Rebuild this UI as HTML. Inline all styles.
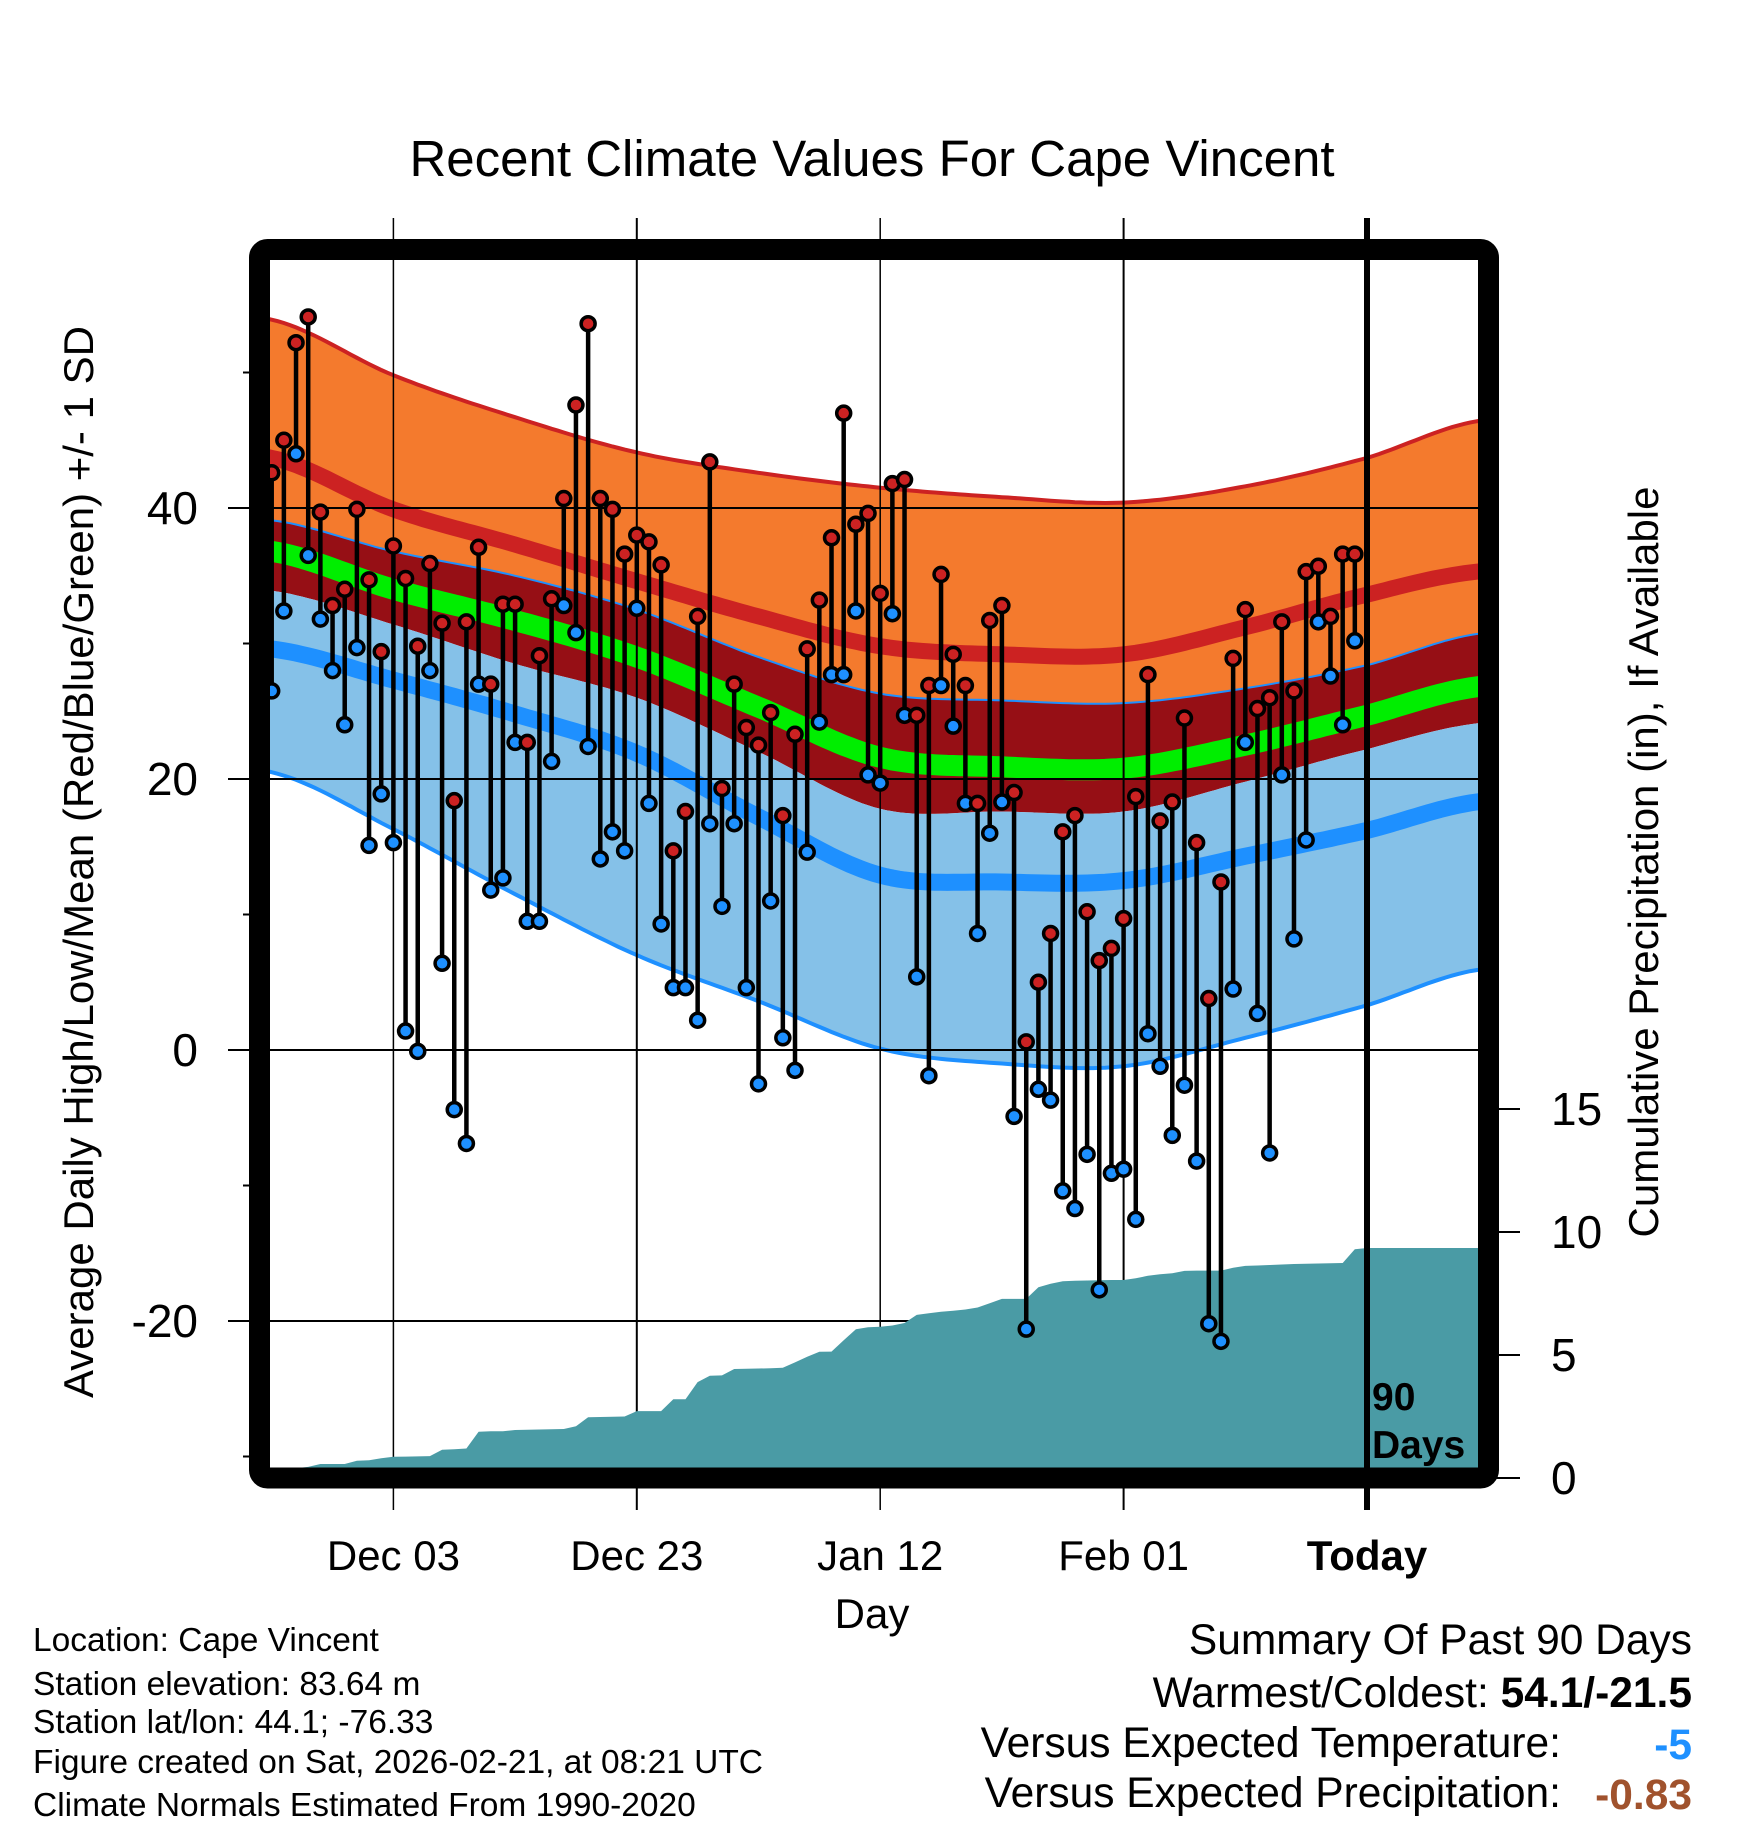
<!DOCTYPE html>
<html><head><meta charset="utf-8"><style>
html,body{margin:0;padding:0;background:#fff;}
svg{display:block;font-family:"Liberation Sans",Arial,sans-serif;}
</style></head><body>
<svg id="chart" width="1748" height="1828" viewBox="0 0 1748 1828" xmlns="http://www.w3.org/2000/svg">
<defs><clipPath id="plotClip"><rect x="270" y="260" width="1208" height="1208"/></clipPath></defs>
<text x="872" y="176" font-size="51" text-anchor="middle">Recent Climate Values For Cape Vincent</text>
<g id="bands" clip-path="url(#plotClip)"></g>
<g id="grid"></g>
<g id="precip" clip-path="url(#plotClip)"></g>
<g id="temps" clip-path="url(#plotClip)"></g>
<g id="axes"></g>
<text font-size="39" font-weight="bold"><tspan x="1372" y="1410">90</tspan><tspan x="1372" y="1458">Days</tspan></text>
<text x="872" y="1628" font-size="42" text-anchor="middle">Day</text>
<text transform="translate(93,862) rotate(-90)" font-size="42" text-anchor="middle">Average Daily High/Low/Mean (Red/Blue/Green) +/- 1 SD</text>
<text transform="translate(1658,862) rotate(-90)" font-size="42" text-anchor="middle">Cumulative Precipitation (in), If Available</text>
<g font-size="33.5">
<text x="33" y="1651">Location: Cape Vincent</text>
<text x="33" y="1695">Station elevation: 83.64 m</text>
<text x="33" y="1733">Station lat/lon: 44.1; -76.33</text>
<text x="33" y="1773">Figure created on Sat, 2026-02-21, at 08:21 UTC</text>
<text x="33" y="1816">Climate Normals Estimated From 1990-2020</text>
</g>
<g font-size="42.5">
<text x="1692" y="1654" text-anchor="end">Summary Of Past 90 Days</text>
<text x="1692" y="1707" text-anchor="end">Warmest/Coldest: <tspan font-weight="bold">54.1/-21.5</tspan></text>
<text x="1561" y="1757" text-anchor="end">Versus Expected Temperature:</text>
<text x="1692" y="1759" text-anchor="end" font-weight="bold" fill="#1e90ff">-5</text>
<text x="1561" y="1807" text-anchor="end">Versus Expected Precipitation:</text>
<text x="1692" y="1809" text-anchor="end" font-weight="bold" fill="#a0522d">-0.83</text>
</g>
</svg>
<script>
// ---- data ----
const normalDays = [-90,-80,-70,-60,-50,-40,-30,-20,-10,0,9];
const normTop    = [53.9,49.8,46.7,44.1,42.6,41.5,40.8,40.4,41.6,43.7,46.4];
const normHigh   = [43.7,39.9,37.3,34.6,32.0,29.8,29.2,29.2,31.2,33.6,35.3];
const normHighLo = [39.1,36.8,35.0,32.5,29.0,26.3,25.8,25.6,26.7,28.4,30.7];
const normMean   = [36.8,34.0,31.7,29.0,25.3,21.6,20.9,20.8,22.5,24.7,26.8];
const normLowHi  = [33.9,31.4,28.5,26.0,22.0,17.8,17.6,17.6,19.8,22.2,24.1];
const normLow    = [29.6,27.3,24.8,21.9,17.2,12.9,12.4,12.5,14.3,16.2,18.3];
const normBottom = [20.5,16.3,11.5,7.0,3.6,0.1,-1.0,-1.2,0.9,3.3,5.9];
const highs = [42.6,45,52.2,54.1,39.7,32.8,34,39.9,34.7,29.4,37.2,34.8,29.8,35.9,31.5,18.4,31.6,37.1,27,32.9,32.9,22.7,29.1,33.3,40.7,47.6,53.6,40.7,39.9,36.6,38,37.5,35.8,14.7,17.6,32,43.4,19.3,27,23.8,22.5,24.9,17.3,23.3,29.6,33.2,37.8,47,38.8,39.6,33.7,41.8,42.1,24.7,26.9,35.1,29.2,26.9,18.2,31.7,32.8,19,0.6,5,8.6,16.1,17.3,10.2,6.6,7.5,9.7,18.7,27.7,16.9,18.3,24.5,15.3,3.8,12.4,28.9,32.5,25.2,26,31.6,26.5,35.3,35.7,32,36.6,36.6];
const lows = [26.5,32.4,44,36.5,31.8,28,24,29.7,15.1,18.9,15.3,1.4,-0.1,28,6.4,-4.4,-6.9,27,11.8,12.7,22.7,9.5,9.5,21.3,32.8,30.8,22.4,14.1,16.1,14.7,32.6,18.2,9.3,4.6,4.6,2.2,16.7,10.6,16.7,4.6,-2.5,11,0.9,-1.5,14.6,24.2,27.7,27.7,32.4,20.3,19.7,32.2,24.7,5.4,-1.9,26.9,23.9,18.2,8.6,16,18.3,-4.9,-20.6,-2.9,-3.7,-10.4,-11.7,-7.7,-17.7,-9.1,-8.8,-12.5,1.2,-1.2,-6.3,-2.6,-8.2,-20.2,-21.5,4.5,22.7,2.7,-7.6,20.3,8.2,15.5,31.6,27.6,24,30.2];
const precipCum = [0.3,0.35,0.4,0.45,0.57,0.57,0.57,0.7,0.72,0.8,0.86,0.87,0.88,0.89,1.15,1.17,1.2,1.88,1.9,1.9,1.95,1.96,1.97,1.98,1.99,2.1,2.47,2.48,2.49,2.5,2.72,2.72,2.72,3.2,3.2,3.9,4.16,4.17,4.43,4.44,4.45,4.46,4.48,4.7,4.93,5.13,5.14,5.6,6.05,6.13,6.15,6.2,6.3,6.63,6.7,6.76,6.8,6.85,6.93,7.1,7.28,7.28,7.28,7.75,7.9,8.0,8.02,8.03,8.04,8.05,8.05,8.12,8.22,8.28,8.32,8.42,8.43,8.43,8.43,8.55,8.62,8.64,8.66,8.68,8.7,8.71,8.72,8.73,8.74,9.3,9.35];
const tempTicks = [40,20,0,-20];
const tempMinorTicks = [50,30,10,-10,-30];
const precipTicks = [0,5,10,15];
const dateTicks = [-80,-60,-40,-20,0];
const dateLabels = ["Dec 03","Dec 23","Jan 12","Feb 01","Today"];

// ---- scales ----
const xOf = d => 1367 + d*12.17;
const yT = t => 1050 - t*13.55;
const yP = p => 1478 - p*24.6;
const NS = "http://www.w3.org/2000/svg";
function mk(tag, attrs, parent){const e=document.createElementNS(NS,tag);for(const k in attrs)e.setAttribute(k,attrs[k]);parent.appendChild(e);return e;}

function interp(arr, d){
  let i=0; while(i<normalDays.length-2 && d>normalDays[i+1]) i++;
  const p0=arr[Math.max(i-1,0)],p1=arr[i],p2=arr[i+1],p3=arr[Math.min(i+2,arr.length-1)];
  const t=(d-normalDays[i])/(normalDays[i+1]-normalDays[i]);
  const t2=t*t,t3=t2*t;
  return 0.5*((2*p1)+(-p0+p2)*t+(2*p0-5*p1+4*p2-p3)*t2+(-p0+3*p1-3*p2+p3)*t3);
}
function pts(arr){const r=[];for(let d=-91;d<=10;d+=0.5)r.push([xOf(d),yT(interp(arr,d))]);return r;}
function linePath(arr){return pts(arr).map((p,i)=>(i?'L':'M')+p[0].toFixed(1)+','+p[1].toFixed(1)).join('');}
function bandPath(a,b){const p=pts(a),q=pts(b).reverse();return p.concat(q).map((v,i)=>(i?'L':'M')+v[0].toFixed(1)+','+v[1].toFixed(1)).join('')+'Z';}

const bands=document.getElementById('bands');
let e;
e=mk('path',{d:bandPath(normTop,normHighLo),fill:'#f47a2d'},bands);


e=mk('path',{d:bandPath(normHighLo,normLowHi),fill:'#960f15'},bands);


e=mk('path',{d:bandPath(normLowHi,normBottom),fill:'#85c1e8'},bands);


e=mk('path',{d:linePath(normTop),fill:'none',stroke:'#cc2222','stroke-width':4},bands);


e=mk('path',{d:linePath(normHigh),fill:'none',stroke:'#cc2222','stroke-width':16},bands);


e=mk('path',{d:linePath(normHighLo),fill:'none',stroke:'#1e90ff','stroke-width':2},bands);


e=mk('path',{d:linePath(normMean),fill:'none',stroke:'#00ee00','stroke-width':21},bands);


e=mk('path',{d:linePath(normLow),fill:'none',stroke:'#1e90ff','stroke-width':17},bands);


e=mk('path',{d:linePath(normBottom),fill:'none',stroke:'#1e90ff','stroke-width':4},bands);



// grid
const grid=document.getElementById('grid');
tempTicks.forEach(t=>{
  e=mk('line',{x1:228,x2:1478,y1:yT(t),y2:yT(t),stroke:'#000','stroke-width':2},grid);
  
  
});
dateTicks.forEach((d,i)=>{
  if(i===dateTicks.length-1) return;
  const w = i%2===0?1.5:2;
  e=mk('line',{x1:xOf(d),x2:xOf(d),y1:218,y2:1510,stroke:'#000','stroke-width':w},grid);
  
  
});

// precip
const pr=document.getElementById('precip');
let pd='M'+xOf(-90)+','+yP(0);
precipCum.forEach((v,i)=>{pd+='L'+xOf(-90+i).toFixed(1)+','+yP(v).toFixed(1);});
pd+='L1480,'+yP(precipCum[precipCum.length-1]).toFixed(1)+'L1480,'+yP(0)+'Z';
e=mk('path',{d:pd,fill:'#4a9ba5'},pr);



// today line
e=mk('line',{x1:xOf(0),x2:xOf(0),y1:218,y2:1510,stroke:'#000','stroke-width':6},document.getElementById('axes'));



// temps
const tg=document.getElementById('temps');
highs.forEach((h,i)=>{
  const x=xOf(-90+i);
  e=mk('line',{x1:x,x2:x,y1:yT(h),y2:yT(lows[i]),stroke:'#000','stroke-width':4.5},tg);
  
  
});
highs.forEach((h,i)=>{
  const x=xOf(-90+i);
  e=mk('circle',{cx:x,cy:yT(lows[i]),r:7,fill:'#1e90ff',stroke:'#000','stroke-width':3.5},tg);
  
  
  e=mk('circle',{cx:x,cy:yT(h),r:7,fill:'#cc2222',stroke:'#000','stroke-width':3.5},tg);
  
  
});

// axes
const ax=document.getElementById('axes');
e=mk('rect',{x:259.5,y:249.5,width:1229,height:1228.5,rx:8,fill:'none',stroke:'#000','stroke-width':21},ax);


tempTicks.forEach(t=>{
  e=mk('text',{x:198,y:yT(t)+16,'font-size':46,'text-anchor':'end'},ax);
  e.textContent=String(t);
  
  
});
tempMinorTicks.forEach(t=>{
  e=mk('line',{x1:243,x2:252,y1:yT(t),y2:yT(t),stroke:'#000','stroke-width':2},ax);
  
  
});
precipTicks.forEach(p=>{
  e=mk('line',{x1:1495,x2:1520,y1:yP(p),y2:yP(p),stroke:'#000','stroke-width':2},ax);
  
  
  e=mk('text',{x:1551,y:yP(p)+16,'font-size':46},ax);
  e.textContent=String(p);
  
  
});
dateTicks.forEach((d,i)=>{
  e=mk('text',{x:xOf(d),y:1570,'font-size':42,'text-anchor':'middle'},ax);
  if(i===dateTicks.length-1) e.setAttribute('font-weight','bold');
  e.textContent=dateLabels[i];
  
  
});
</script>
</body></html>
